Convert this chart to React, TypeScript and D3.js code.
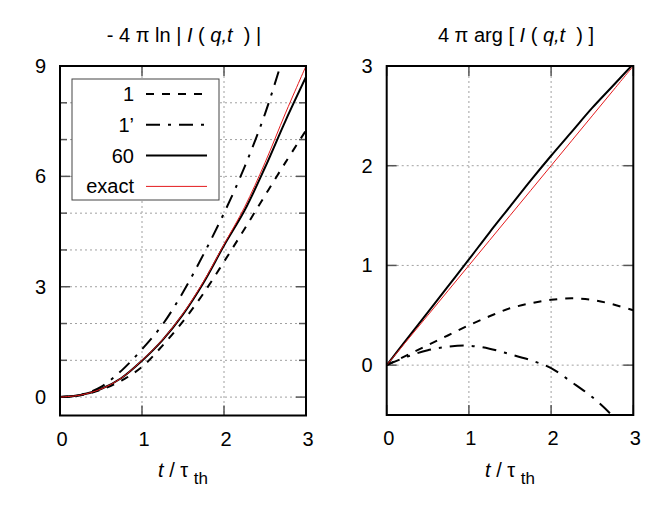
import * as d3 from 'd3';

// time axis shared by every curve
const tValues = [0, 0.25, 0.5, 0.75, 1, 1.25, 1.5, 1.75, 2, 2.25, 2.5, 2.75, 3];

// left panel: -4 pi ln |I(q,t)|
const lnExact = [0, 0.055, 0.22, 0.52, 1.0, 1.56, 2.27, 3.14, 4.15, 5.16, 6.37, 7.72, 9.0];
const ln60 = [0, 0.055, 0.22, 0.52, 0.99, 1.55, 2.25, 3.11, 4.12, 5.07, 6.24, 7.51, 8.7];
const ln1 = [0, 0.05, 0.2, 0.45, 0.82, 1.4, 2.06, 2.82, 3.68, 4.57, 5.48, 6.38, 7.25];
const ln1p = [0, 0.06, 0.28, 0.72, 1.3, 1.97, 2.85, 3.88, 5.0, 6.25, 7.7, 9.45, 11.2];

// right panel: 4 pi arg[I(q,t)]
const argExact = [0, 0.25, 0.5, 0.75, 1, 1.25, 1.5, 1.75, 2, 2.25, 2.5, 2.75, 3];
const arg60 = [0, 0.265, 0.53, 0.795, 1.06, 1.33, 1.59, 1.85, 2.1, 2.34, 2.58, 2.8, 3.02];
const arg1 = [0, 0.1, 0.2, 0.3, 0.4, 0.49, 0.57, 0.62, 0.655, 0.67, 0.655, 0.61, 0.55];
const arg1p = [0, 0.085, 0.15, 0.185, 0.195, 0.165, 0.11, 0.05, -0.03, -0.17, -0.32, -0.51, -0.74];

const legendLabels = ['1', '1\u2019', '60', 'exact'];
const xTicks = [0, 1, 2, 3];

const FONT = '"Liberation Sans", Arial, Helvetica, sans-serif';
const FS = 20;

const styles = [
  { stroke: '#000', width: 2, dash: '8,8' },
  { stroke: '#000', width: 2, dash: '14,8,3,8' },
  { stroke: '#000', width: 2, dash: null },
  { stroke: '#e41a1c', width: 1, dash: null },
];

function Panel({ id, left, right, top, bottom, yDomain, yMajor, yMinor, yGrid, series, title, titleX, legend }) {
  const x = d3.scaleLinear().domain([0, 3]).range([left, right]);
  const y = d3.scaleLinear().domain(yDomain).range([bottom, top]);
  const line = d3.line().x(d => x(d[0])).y(d => y(d[1])).curve(d3.curveCatmullRom);

  return (
    <g>
      <defs>
        <clipPath id={id}>
          <rect x={left} y={top} width={right - left} height={bottom - top} />
        </clipPath>
      </defs>

      {/* grid */}
      {yGrid.map(v => (
        <line key={'gy' + v} x1={left} x2={right} y1={y(v)} y2={y(v)}
          stroke="#a0a0a0" strokeWidth={1} strokeDasharray="2,3" />
      ))}
      {[1, 2].map(v => (
        <line key={'gx' + v} x1={x(v)} x2={x(v)} y1={top} y2={bottom}
          stroke="#a0a0a0" strokeWidth={1} strokeDasharray="2,3" />
      ))}

      {/* ticks, mirrored on all sides */}
      {yMajor.map(v => (
        <g key={'ty' + v}>
          <line x1={left} x2={left + 10} y1={y(v)} y2={y(v)} stroke="#555" strokeWidth={1.5} />
          <line x1={right} x2={right - 10} y1={y(v)} y2={y(v)} stroke="#555" strokeWidth={1.5} />
          <text x={left - 14} y={y(v) + 7} textAnchor="end" fontSize={FS} fontFamily={FONT}>{v}</text>
        </g>
      ))}
      {yMinor.map(v => (
        <g key={'tm' + v}>
          <line x1={left} x2={left + 7} y1={y(v)} y2={y(v)} stroke="#555" strokeWidth={1.5} />
          <line x1={right} x2={right - 7} y1={y(v)} y2={y(v)} stroke="#555" strokeWidth={1.5} />
        </g>
      ))}
      {xTicks.map(v => (
        <g key={'tx' + v}>
          <line x1={x(v)} x2={x(v)} y1={bottom} y2={bottom - 10} stroke="#555" strokeWidth={1.5} />
          <line x1={x(v)} x2={x(v)} y1={top} y2={top + 10} stroke="#555" strokeWidth={1.5} />
          <text x={x(v) + 2} y={bottom + 30} textAnchor="middle" fontSize={FS} fontFamily={FONT}>{v}</text>
        </g>
      ))}

      {/* curves */}
      <g clipPath={`url(#${id})`}>
        {series.map((s, i) => (
          <path key={i} d={line(tValues.map((t, j) => [t, s[j]]))} fill="none"
            stroke={styles[i].stroke} strokeWidth={styles[i].width}
            strokeDasharray={styles[i].dash || undefined} />
        ))}
      </g>

      {legend && (
        <g fontFamily={FONT} fontSize={FS}>
          <rect x={72} y={79} width={147} height={121} fill="#fff" stroke="#444" strokeWidth={1} />
          {legendLabels.map((lab, i) => {
            const yy = 94 + i * 30.8;
            return (
              <g key={lab}>
                <text x={134} y={yy + 7} textAnchor="end">{lab}</text>
                <line x1={146} x2={207} y1={yy} y2={yy} stroke={styles[i].stroke}
                  strokeWidth={styles[i].width} strokeDasharray={styles[i].dash || undefined} />
              </g>
            );
          })}
        </g>
      )}

      <rect x={left} y={top} width={right - left} height={bottom - top} fill="none" stroke="#000" strokeWidth={2} />

      {/* title */}
      <text x={titleX} y={42} textAnchor="middle" fontSize={FS} fontFamily={FONT} style={{ whiteSpace: 'pre' }}>
        {title}
      </text>

      {/* x label */}
      <text x={(left + right) / 2} y={477} textAnchor="middle" fontSize={FS} fontFamily={FONT} style={{ whiteSpace: 'pre' }}>
        <tspan fontStyle="italic">t</tspan>
        <tspan> / τ </tspan>
        <tspan fontSize={17} dy={7}>th</tspan>
      </text>
    </g>
  );
}

export default function App() {
  const leftTitle = (
    <>
      <tspan>{'- 4 π ln | '}</tspan>
      <tspan fontStyle="italic">I</tspan>
      <tspan>{' ( '}</tspan>
      <tspan fontStyle="italic">q,t</tspan>
      <tspan>{'  ) |'}</tspan>
    </>
  );
  const rightTitle = (
    <>
      <tspan>{'4 π arg [ '}</tspan>
      <tspan fontStyle="italic">I</tspan>
      <tspan>{' ( '}</tspan>
      <tspan fontStyle="italic">q,t</tspan>
      <tspan>{'  ) ]'}</tspan>
    </>
  );

  return (
    <svg width={654} height={509} style={{ position: 'absolute', left: 0, top: 0, background: '#fff' }}>
      <Panel id="clipL" left={60} right={306} top={66} bottom={415.5}
        yDomain={[-0.5, 9]} yMajor={[0, 3, 6, 9]} yMinor={[1, 2, 4, 5, 7, 8]}
        yGrid={[0, 1, 2, 3, 4, 5, 6, 7, 8]}
        series={[ln1, ln1p, ln60, lnExact]} title={leftTitle} titleX={184} legend />
      <Panel id="clipR" left={386.7} right={633.3} top={66} bottom={415}
        yDomain={[-0.5, 3]} yMajor={[0, 1, 2, 3]} yMinor={[]}
        yGrid={[0, 1, 2]}
        series={[arg1, arg1p, arg60, argExact]} title={rightTitle} titleX={516} legend={false} />
    </svg>
  );
}
